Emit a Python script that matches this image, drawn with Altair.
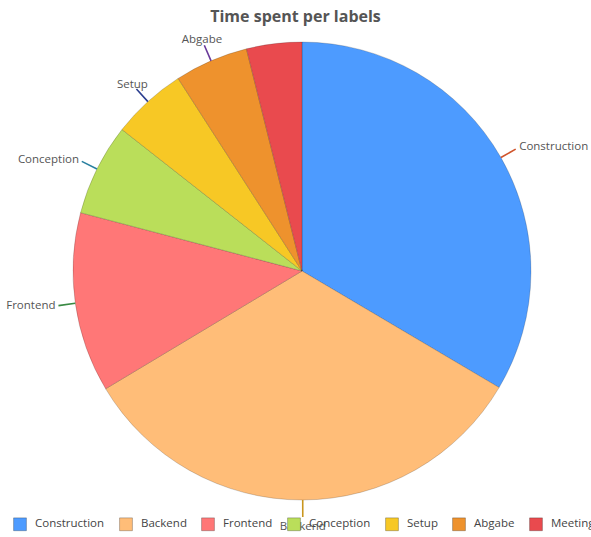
import altair as alt
import pandas as pd

labels = ["Construction", "Backend", "Frontend", "Conception", "Setup", "Abgabe", "Meeting"]
values = [33.5, 32.9, 12.7, 6.5, 5.3, 5.2, 3.9]
fill_colors = ["#4D9BFF", "#FFBD78", "#FF7777", "#BADE5A", "#F7C825", "#EE922D", "#E94A4E"]
line_colors = ["#D0542C", "#C9961E", "#3A8A44", "#2A80A0", "#2C3F90", "#6A3A9A", "#A02030"]
title_text = "Time spent per labels"

total = sum(values)
df = pd.DataFrame({"label": labels, "value": values, "idx": list(range(len(labels)))})

base = alt.Chart(df).transform_window(
    cum="sum(value)", sort=[alt.SortField("idx")], frame=[None, 0]
).transform_calculate(
    start="datum.cum - datum.value",
    mid="datum.cum - datum.value / 2",
    frac=f"(datum.cum - datum.value / 2) / {total}",
    leader="datum.label",
)

theta_scale = alt.Scale(domain=[0, total])
CX, CY = 302, 241

pie = base.mark_arc(outerRadius=229, stroke="#000000", strokeOpacity=0.22, strokeWidth=0.8).encode(
    theta=alt.Theta("start:Q", scale=theta_scale),
    theta2="cum:Q",
    color=alt.Color(
        "label:N",
        scale=alt.Scale(domain=labels, range=fill_colors),
        legend=alt.Legend(
            title=None,
            orient="none",
            direction="horizontal",
            legendX=13,
            legendY=487,
            symbolType="square",
            symbolSize=165,
            symbolStrokeColor="rgba(0,0,0,0.25)",
            symbolStrokeWidth=1,
            labelFont="Open Sans",
            labelFontSize=11.5,
            labelColor="#444444",
            labelOffset=8,
            columnPadding=12,
        ),
    ),
    x=alt.value(CX),
    y=alt.value(CY),
)

leaders = base.transform_filter("datum.label != 'Meeting'").mark_arc(
    radius=229, radius2=246, strokeWidth=1.6, filled=False
).encode(
    theta=alt.Theta("mid:Q", scale=theta_scale),
    theta2="mid:Q",
    stroke=alt.Stroke("leader:N", scale=alt.Scale(domain=labels, range=line_colors), legend=None),
    x=alt.value(CX),
    y=alt.value(CY),
)

def label_layer(cond, **kw):
    return base.transform_filter(cond).mark_text(
        font="Open Sans", fontSize=11.5, color="#555555", **kw
    ).encode(
        theta=alt.Theta("mid:Q", scale=theta_scale),
        text="label:N",
        x=alt.value(CX),
        y=alt.value(CY),
    )

right = label_layer("datum.frac < 0.45", radius=250, align="left", baseline="middle")
bottom = label_layer("datum.frac >= 0.45 && datum.frac < 0.55", radius=256, align="center", baseline="middle")
left = label_layer("datum.frac >= 0.55 && datum.frac < 0.85", radius=249, align="right", baseline="middle")
top = label_layer("datum.frac >= 0.85 && datum.label != 'Meeting'", radius=252, align="center", baseline="middle")

chart = alt.layer(pie, leaders, right, bottom, left, top).resolve_scale(
    stroke="independent"
).resolve_legend(stroke="independent").properties(
    width=591,
    height=507,
    autosize=alt.AutoSizeParams(type="none"),
    padding={"left": 0, "top": 30, "right": 0, "bottom": 0},
    title=alt.Title(title_text, fontSize=16, fontWeight="bold", color="#555555", font="Open Sans", offset=5, anchor="middle"),
).configure(background="white").configure_view(stroke=None)

chart.save("out.html", embed_options={"renderer": "svg", "actions": False})
